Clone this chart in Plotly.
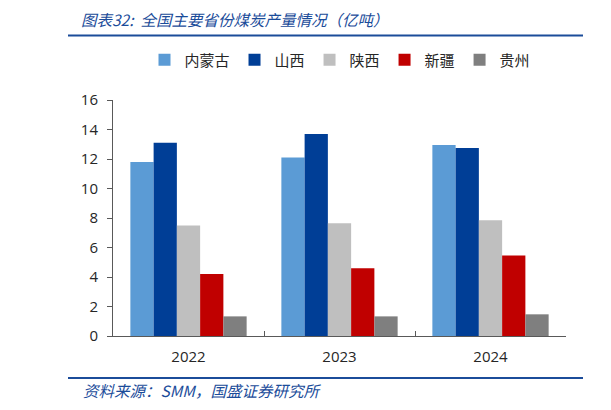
import plotly.graph_objects as go

years = ["2022", "2023", "2024"]
provinces = ["内蒙古", "山西", "陕西", "新疆", "贵州"]
output = {
    "内蒙古": [11.8, 12.1, 12.95],
    "山西": [13.1, 13.7, 12.75],
    "陕西": [7.5, 7.65, 7.85],
    "新疆": [4.2, 4.6, 5.45],
    "贵州": [1.33, 1.33, 1.47],
}
colors = ["#5B9BD5", "#003E96", "#BFBFBF", "#C00000", "#7F7F7F"]

# page body has an 8px margin, so the figure is drawn 8px in from the corner
OFF = 8
W, H = 611 - OFF, 410 - OFF
L, R, T, B = 113 - OFF, 45, 100 - OFF, 74
pw, ph = W - L - R, H - T - B

def px(x):
    # x in screenshot pixels -> paper coords
    return (x - OFF - L) / pw

def py(y):
    return (H - B - (y - OFF)) / ph

blue = "#1B4C9A"
axis_col = "#595959"

fig = go.Figure()
for p, c in zip(provinces, colors):
    fig.add_trace(go.Bar(name=p, x=years, y=output[p], marker_color=c, marker_line_width=0))

fig.update_layout(
    width=W, height=H,
    margin=dict(l=L, r=R, t=T, b=B),
    plot_bgcolor="white", paper_bgcolor="white",
    barmode="group", bargap=0.23, bargroupgap=0,
    font=dict(family="Open Sans, Noto Sans CJK SC", size=15, color="#262626"),
    legend=dict(orientation="h", x=px(340), xanchor="center", y=py(60), yanchor="middle",
                font=dict(family="Noto Sans CJK SC", size=15, color="#262626"),
                itemwidth=30, traceorder="normal"),
    showlegend=True,
)
fig.update_xaxes(showline=True, linecolor=axis_col, linewidth=1, ticks="inside",
                 tickson="boundaries", ticklen=5, tickcolor=axis_col, showgrid=False,
                 ticklabelstandoff=7)
fig.update_yaxes(range=[0, 16], dtick=2, showline=True, linecolor=axis_col, linewidth=1,
                 ticks="outside", ticklen=5, tickcolor=axis_col, showgrid=False,
                 zeroline=False, ticklabelstandoff=6)

# title and source
fig.add_annotation(text="图表32:  全国主要省份煤炭产量情况（亿吨）", xref="paper", yref="paper",
                   x=px(79), y=py(19), xanchor="left", yanchor="middle", showarrow=False,
                   font=dict(family="Noto Sans CJK SC", size=15.5, color=blue, style="italic"))
fig.add_annotation(text="资料来源：SMM，国盛证券研究所", xref="paper", yref="paper",
                   x=px(81), y=py(390), xanchor="left", yanchor="middle", showarrow=False,
                   font=dict(family="Noto Sans CJK SC", size=15.5, color=blue, style="italic"))

for yy in (35.5, 378):
    fig.add_shape(type="line", xref="paper", yref="paper", x0=px(68), x1=px(583),
                  y0=py(yy), y1=py(yy), line=dict(color=blue, width=2))
    fig.add_shape(type="line", xref="paper", yref="paper", x0=px(607), x1=px(611),
                  y0=py(yy), y1=py(yy), line=dict(color=blue, width=2))

fig.write_html("out.html")
